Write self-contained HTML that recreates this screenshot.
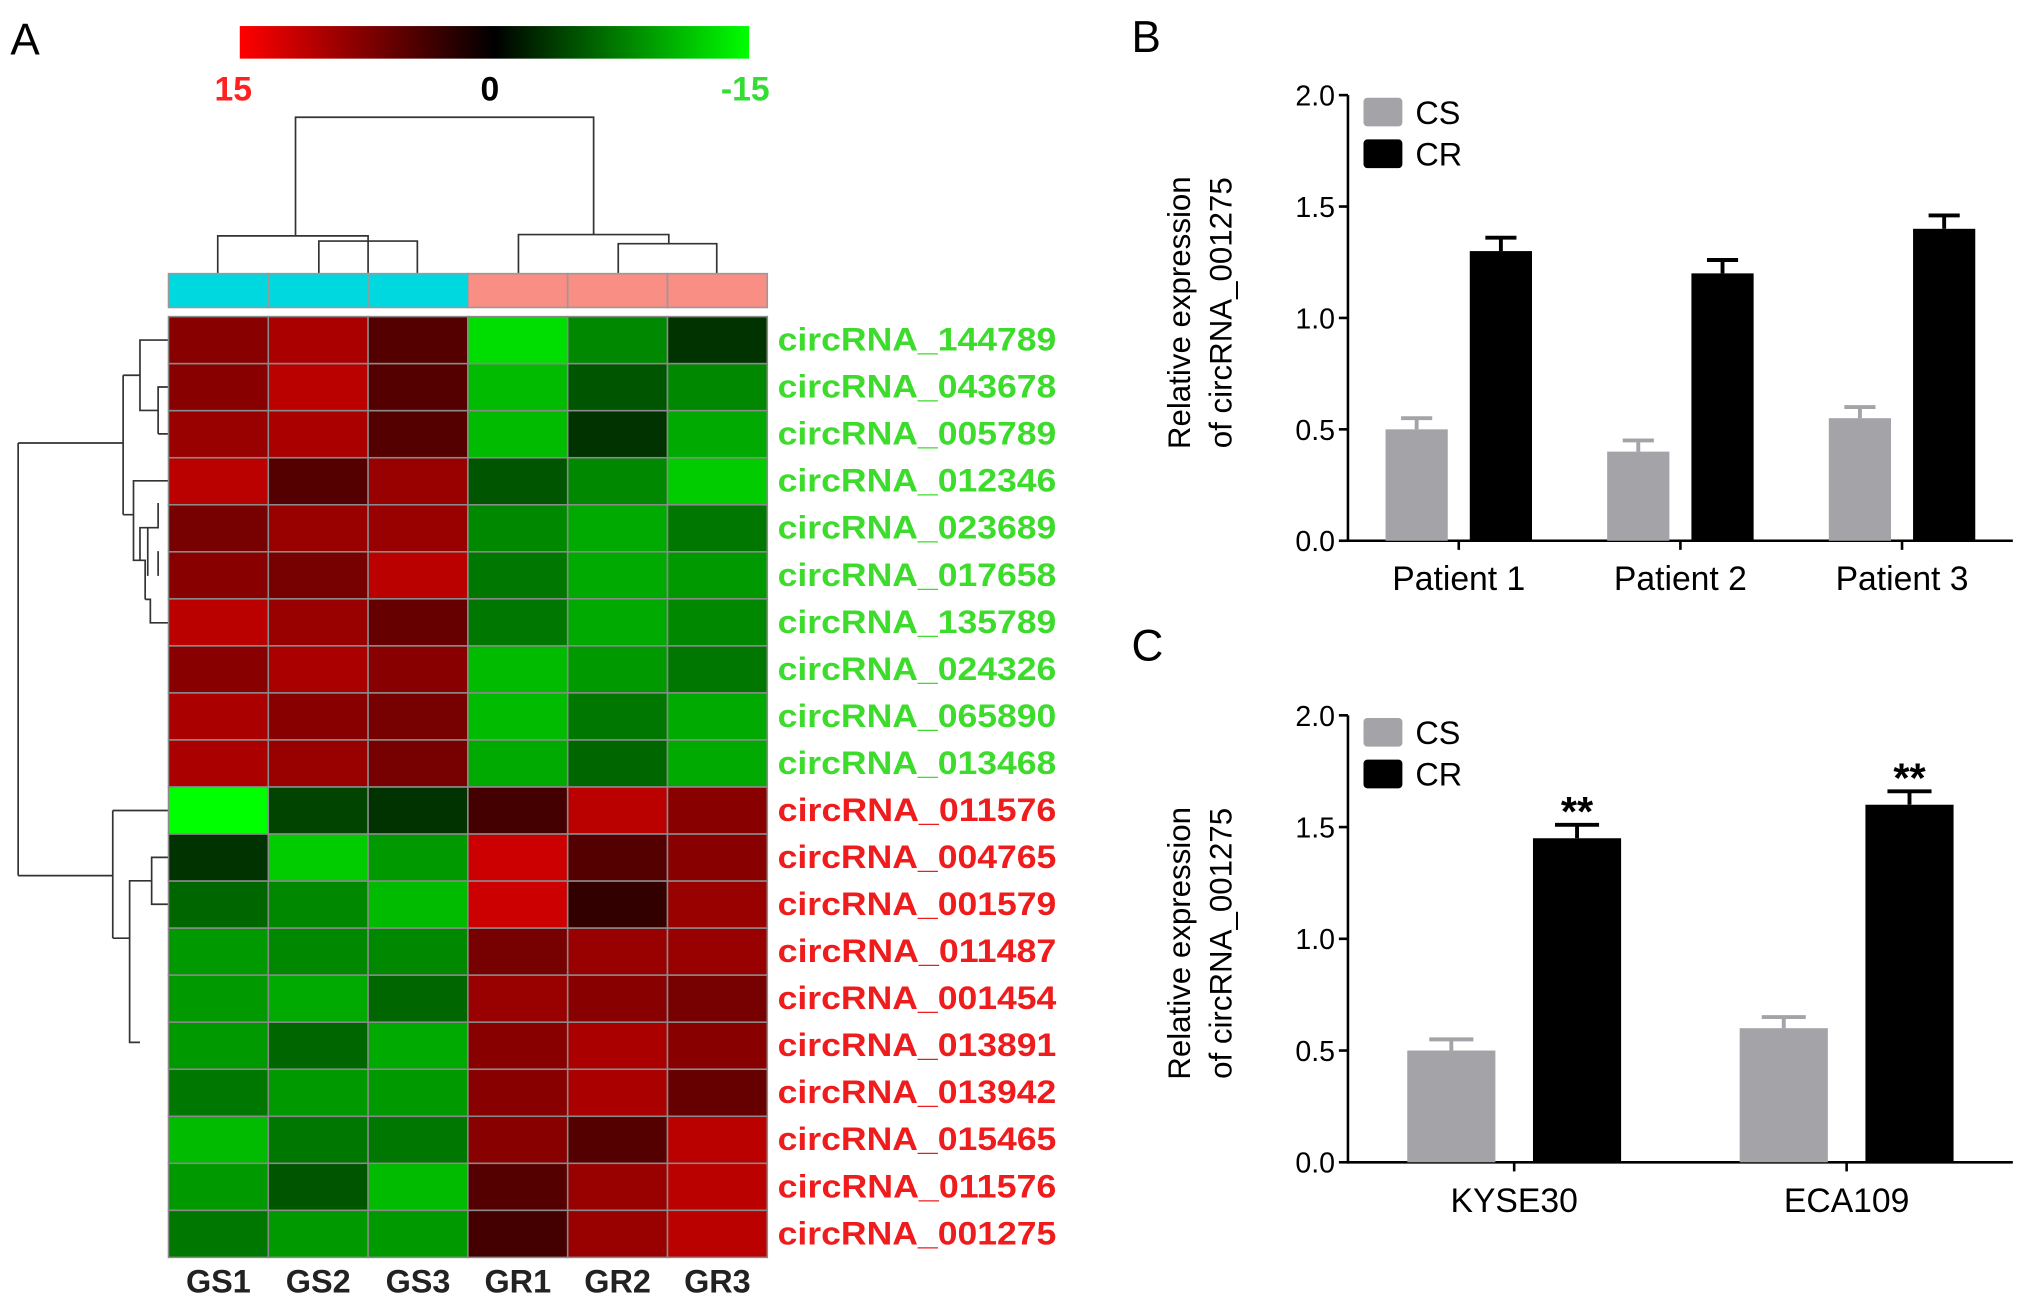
<!DOCTYPE html>
<html><head><meta charset="utf-8"><style>
html,body{margin:0;padding:0;background:#fff;}
svg{display:block;font-family:"Liberation Sans",Arial,sans-serif;}
</style></head><body>
<svg id="fig" width="2031" height="1303" viewBox="0 0 1567 1000" preserveAspectRatio="none">
<defs>
<linearGradient id="cb" x1="0" x2="1" y1="0" y2="0">
<stop offset="0" stop-color="#ff0000"/><stop offset="0.5" stop-color="#000000"/><stop offset="1" stop-color="#00ff00"/>
</linearGradient>
</defs>
<text x="8" y="42" font-size="34">A</text>
<text x="873" y="40" font-size="34">B</text>
<text x="873" y="507" font-size="34">C</text>
<rect x="185" y="20" width="393" height="25" fill="url(#cb)"/>
<text x="180" y="77" font-size="26" font-weight="bold" fill="#ff2020" text-anchor="middle">15</text>
<text x="378" y="77" font-size="26" font-weight="bold" fill="#000" text-anchor="middle">0</text>
<text x="575" y="77" font-size="26" font-weight="bold" fill="#33dd33" text-anchor="middle">-15</text>
<g fill="none" stroke="#333" stroke-width="1.3">
<path d="M168,210 V181 H284 V210 M246,210 V185 H322 V210 M284,181"/>
<path d="M228,181 V90 H458 V180"/>
<path d="M400,210 V180 H516 V187 M477,210 V187 H553 V210"/>
</g>
<g fill="none" stroke="#333" stroke-width="1.3">
<path d="M14,340 V672 M14,340 H95 M14,672 H87"/>
<path d="M95,288 V395 M95,288 H108 V261 H130 M108,261 V315 H122 V297 H130 M122,333 H130 M122,315 V333"/>
<path d="M95,395 H103 V369 H130 M103,395 V430 H108 V405 H114 M114,405 V442 M108,430 H112 V460 M112,460 H116 V478 H130 M114,405 H122 V386 M122,423 V442"/>
<path d="M87,622 V720 M87,622 H130 M87,720 H100 V676 H117 V658 H130 M117,676 V694 H130 M100,720 V800 H108"/>
</g>
<g id="annot"></g>
<g id="heat"></g>
<g id="rowlabels"></g>
<g id="collabels"></g>
<g id="chartB"></g>
<g id="chartC"></g>
</svg>
<script>
const NS="http://www.w3.org/2000/svg";
const samples=["GS1","GS2","GS3","GR1","GR2","GR3"];
const groupColors=["#00d8e0","#00d8e0","#00d8e0","#f88e84","#f88e84","#f88e84"];
const genes=["circRNA_144789","circRNA_043678","circRNA_005789","circRNA_012346","circRNA_023689","circRNA_017658","circRNA_135789","circRNA_024326","circRNA_065890","circRNA_013468","circRNA_011576","circRNA_004765","circRNA_001579","circRNA_011487","circRNA_001454","circRNA_013891","circRNA_013942","circRNA_015465","circRNA_011576","circRNA_001275"];
const geneUp=[0,0,0,0,0,0,0,0,0,0,1,1,1,1,1,1,1,1,1,1];
const heatValues=[
[8,10,5,-13,-8,-3],[8,11,5,-11,-5,-8],[9,10,5,-11,-3,-10],[11,5,9,-5,-8,-12],
[7,9,9,-8,-10,-7],[8,7,11,-7,-10,-9],[11,9,6,-7,-10,-8],[8,10,8,-11,-9,-7],
[10,8,7,-11,-7,-10],[10,9,7,-10,-6,-10],[-15,-4,-3,4,11,8],[-3,-12,-9,12,5,8],
[-6,-8,-11,12,3,9],[-9,-8,-8,7,9,9],[-9,-10,-6,9,8,7],[-9,-6,-10,8,10,8],
[-7,-9,-9,8,10,6],[-11,-7,-7,8,5,11],[-9,-5,-11,5,9,11],[-7,-9,-9,4,9,11]];
const bCategories=["Patient 1","Patient 2","Patient 3"];
const bCS=[0.5,0.4,0.55];
const bCSerr=[0.05,0.05,0.05];
const bCR=[1.3,1.2,1.4];
const bCRerr=[0.06,0.06,0.06];
const cCategories=["KYSE30","ECA109"];
const cCS=[0.5,0.6];
const cCSerr=[0.05,0.05];
const cCR=[1.45,1.6];
const cCRerr=[0.06,0.06];
const cSig=["**","**"];
const yTicks=[0,0.5,1.0,1.5,2.0];

function mk(tag,attrs,parent){const e=document.createElementNS(NS,tag);for(const k in attrs)e.setAttribute(k,attrs[k]);parent.appendChild(e);return e;}
function col(v){const t=Math.min(1,Math.abs(v)/15);const c=Math.round(255*t);return v>=0?`rgb(${c},0,0)`:`rgb(0,${c},0)`;}

const hx0=130,hx1=592,hy0=243,hy1=965;
const cw=(hx1-hx0)/samples.length, rh=(hy1-hy0)/genes.length;
const annot=document.getElementById('annot');
samples.forEach((s,j)=>{
  const r=mk('rect',{x:hx0+j*cw,y:210,width:cw,height:26,fill:groupColors[j],stroke:'#999','stroke-width':1.2},annot);
  
  
});
const heat=document.getElementById('heat');
heatValues.forEach((row,i)=>row.forEach((v,j)=>{
  const r=mk('rect',{x:hx0+j*cw,y:hy0+i*rh,width:cw,height:rh,fill:col(v),stroke:'#8a8a8a','stroke-width':1.2},heat);
  
  
}));
const rl=document.getElementById('rowlabels');
genes.forEach((g,i)=>{
  const t=mk('text',{x:600,y:hy0+(i+0.5)*rh+8,'font-size':25,'font-weight':'bold',textLength:215,lengthAdjust:'spacingAndGlyphs',fill:geneUp[i]?'#ee1c1c':'#3ddc2c'},rl);
  t.textContent=g;
  
  
});
const cl=document.getElementById('collabels');
samples.forEach((s,j)=>{
  const t=mk('text',{x:hx0+(j+0.5)*cw,y:992,'font-size':25,'font-weight':'bold','text-anchor':'middle',fill:'#222'},cl);
  t.textContent=s;
  
  
});

function barChart(g,o){
  const ax=1040,ax1=1553;
  const y=v=>o.y0+(o.y2-o.y0)*v/2;
  mk('line',{x1:ax,y1:o.y2,x2:ax,y2:o.y0+1,stroke:'#000','stroke-width':2},g);
  mk('line',{x1:ax,y1:o.y0,x2:ax1,y2:o.y0,stroke:'#000','stroke-width':2},g);
  yTicks.forEach(v=>{
    mk('line',{x1:ax-7,y1:y(v),x2:ax,y2:y(v),stroke:'#000','stroke-width':2},g);
    const t=mk('text',{x:ax-10,y:y(v)+8,'font-size':22,'text-anchor':'end'},g);
    t.textContent=v.toFixed(1);
    
    
  });
  const yt=mk('text',{transform:`translate(${918},${o.ty}) rotate(-90)`,'font-size':24,'text-anchor':'middle'},g);
  yt.textContent='Relative expression';
  
  
  const yt2=mk('text',{transform:`translate(${950},${o.ty}) rotate(-90)`,'font-size':24,'text-anchor':'middle'},g);
  yt2.textContent='of circRNA_001275';
  
  
  const n=o.cats.length, step=(ax1-ax)/n;
  o.cats.forEach((c,i)=>{
    const cx=ax+step*(i+0.5);
    mk('line',{x1:cx,y1:o.y0,x2:cx,y2:o.y0+7,stroke:'#000','stroke-width':2},g);
    const t=mk('text',{x:cx,y:o.y0+38,'font-size':26,'text-anchor':'middle'},g);
    t.textContent=c;
    
    
    [[o.cs,o.cse,'#a3a3a8',-1],[o.cr,o.cre,'#000',1]].forEach(([vals,errs,fill,side])=>{
      const bx=side<0?cx-o.gap/2-o.bw:cx+o.gap/2;
      const v=vals[i],top=y(v),et=y(v+errs[i]);
      mk('line',{x1:bx+o.bw/2,y1:top,x2:bx+o.bw/2,y2:et,stroke:fill,'stroke-width':3},g);
      mk('line',{x1:bx+o.bw/2-o.bw*0.25,y1:et,x2:bx+o.bw/2+o.bw*0.25,y2:et,stroke:fill,'stroke-width':3},g);
      const r=mk('rect',{x:bx,y:top,width:o.bw,height:o.y0-top,fill:fill},g);
      
      
      if(side>0&&o.sig){
        const s=mk('text',{x:bx+o.bw/2,y:et+1,'font-size':32,'font-weight':'bold','text-anchor':'middle'},g);
        s.textContent=o.sig[i];
        
        
      }
    });
  });
  [['CS','#a3a3a8',0],['CR','#000',1]].forEach(([lab,f,k])=>{
    const ly=o.y2+2+k*32;
    const r=mk('rect',{x:1052,y:ly,width:30,height:22,rx:3,fill:f},g);
    
    
    const t=mk('text',{x:1092,y:ly+20,'font-size':25},g);
    t.textContent=lab;
    
    
  });
}
barChart(document.getElementById('chartB'),{y0:415,y2:73,ty:240,cats:bCategories,cs:bCS,cse:bCSerr,cr:bCR,cre:bCRerr,bw:48,gap:17});
barChart(document.getElementById('chartC'),{y0:892,y2:549,ty:724,cats:cCategories,cs:cCS,cse:cCSerr,cr:cCR,cre:cCRerr,bw:68,gap:29,sig:cSig});
</script>
</body></html>
